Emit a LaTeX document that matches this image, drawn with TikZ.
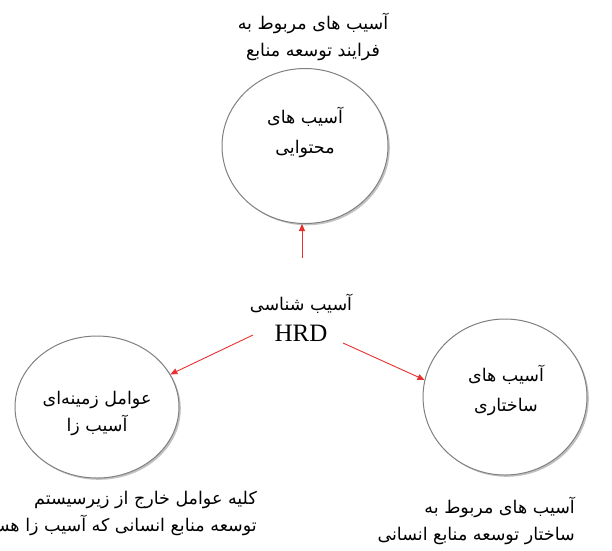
\documentclass[tikz,border=0pt]{standalone}
\usepackage{fontspec}
\setmainfont{Liberation Serif}
\newfontfamily\fa[Script=Arabic]{DejaVu Sans}
\TeXXeTstate=1
\usetikzlibrary{arrows.meta,shapes.geometric,shadows}
\definecolor{arr}{HTML}{E8302E}
\definecolor{ring}{HTML}{808080}
\tikzset{
  bubble/.style={ellipse, draw=ring, line width=1pt, fill=white, inner sep=0pt,
    drop shadow={shadow xshift=1.8pt, shadow yshift=-1.8pt, opacity=.4, fill=black!60}},
  fatext/.style={font=\fontsize{17.5}{27}\fa, align=center, inner sep=0pt},
  link/.style={draw=arr, line width=0.9pt, -{Triangle[length=7pt,width=6pt]}}
}
\begin{document}
\begin{tikzpicture}[x=1pt,y=-1pt]
\useasboundingbox (0,0) rectangle (612,550);
\begin{scope}
\clip (0,0) rectangle (612,550);
% circles
\node[bubble, minimum width=166pt, minimum height=155pt] (topc) at (305,146) {};
\node[bubble, minimum width=164pt, minimum height=142pt] (leftc) at (97,407) {};
\node[bubble, minimum width=164pt, minimum height=156pt] (rightc) at (505,397) {};
% texts
\node[fatext] (toplbl) at (313,37) {\beginR آسیب های مربوط به\endR\\\beginR فرایند توسعه منابع\endR};
\node[fatext, font=\fontsize{17.5}{30}\fa] (toptxt) at (305,132) {\beginR آسیب های\endR\\\beginR محتوایی\endR};
\node[fatext] (lefttxt) at (97,413) {\beginR عوامل زمینه‌ای\endR\\\beginR آسیب زا\endR};
\node[fatext, font=\fontsize{17.5}{30}\fa] (righttxt) at (506,390) {\beginR آسیب های\endR\\\beginR ساختاری\endR};
\node[align=center, inner sep=0pt, font=\fontsize{17.5}{31}\fa] (hrd) at (301,318) {\beginR آسیب شناسی\endR\\{\rmfamily\fontsize{25}{30}\selectfont HRD}};
\node[fatext, align=right, anchor=east] (leftbot) at (257,513) {\beginR کلیه عوامل خارج از زیرسیستم\endR\\\beginR توسعه منابع انسانی که آسیب زا هستند\endR};
\node[fatext, align=right, anchor=east] (rightbot) at (575,521) {\beginR آسیب های مربوط به\endR\\\beginR ساختار توسعه منابع انسانی\endR};
% arrows
\coordinate (s1) at (302,258);
\coordinate (s2) at (253,335);
\coordinate (s3) at (343,343);
\draw[link] (s1) -- (s1 |- topc.south);
\draw[link] (s2) -- (leftc.24);
\draw[link] (s3) -- (rightc.168);
\end{scope}
\end{tikzpicture}
\end{document}
